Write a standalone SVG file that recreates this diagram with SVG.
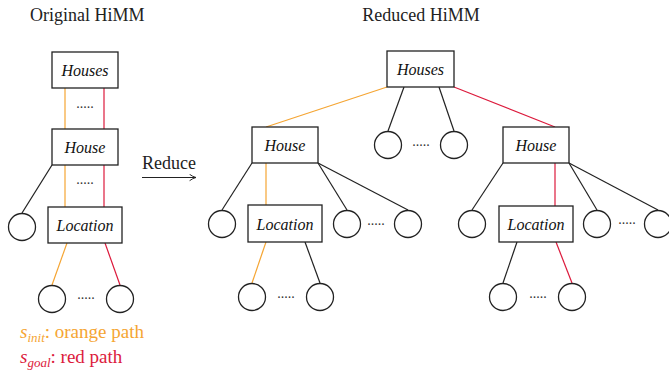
<svg xmlns="http://www.w3.org/2000/svg" width="669" height="373" viewBox="0 0 669 373">
<style>
text{font-family:'Liberation Serif','Times New Roman',serif}
.box{fill:#fff;stroke:#222;stroke-width:1.3}
.c{fill:#fff;stroke:#222;stroke-width:1.3}
.lbl{font-style:italic;font-size:16px;fill:#111;text-anchor:middle}
.t{font-size:18px;fill:#222}
.k{stroke:#222;stroke-width:1.2;fill:none}
.o{stroke:#F5A533;stroke-width:1.2;fill:none}
.r{stroke:#DC1A3C;stroke-width:1.2;fill:none}
.dots{font-size:14px;fill:#333;text-anchor:middle}
.lg{font-size:19px}
</style>
<defs>
<marker id="ah" viewBox="0 0 10 10" refX="9" refY="5" markerWidth="8" markerHeight="8" orient="auto" markerUnits="userSpaceOnUse">
<path d="M1,1 Q5,4 9,5 Q5,6 1,9" fill="none" stroke="#222" stroke-width="1.2"/>
</marker>
</defs>
<rect width="669" height="373" fill="#fff"/>
<text class="t" x="30" y="21">Original HiMM</text>
<text class="t" x="421" y="21" text-anchor="middle">Reduced HiMM</text>
<text class="t" x="142" y="169">Reduce</text>
<g id="connectors">
<line x1="142" y1="177.5" x2="196" y2="177.5" class="k" marker-end="url(#ah)"/>
<line class="o" x1="65" y1="88" x2="65" y2="129"/>
<line class="r" x1="104" y1="88" x2="104" y2="129"/>
<line class="o" x1="65" y1="165" x2="65" y2="207"/>
<line class="r" x1="104" y1="165" x2="104" y2="207"/>
<line class="k" x1="52" y1="165" x2="22" y2="213"/>
<line class="o" x1="67" y1="243" x2="52" y2="285"/>
<line class="r" x1="105" y1="243" x2="120" y2="285"/>
<line class="o" x1="387" y1="87" x2="266" y2="127"/>
<line class="r" x1="454" y1="87" x2="555" y2="127"/>
<line class="k" x1="404" y1="87" x2="388" y2="131"/>
<line class="k" x1="439" y1="87" x2="454" y2="131"/>
<line class="k" x1="252" y1="163" x2="222" y2="210"/>
<line class="o" x1="266" y1="163" x2="266" y2="205"/>
<line class="k" x1="318" y1="163" x2="347" y2="210"/>
<line class="k" x1="318" y1="163" x2="408" y2="210"/>
<line class="o" x1="266" y1="242" x2="252" y2="283"/>
<line class="k" x1="305" y1="242" x2="320" y2="283"/>
<line class="k" x1="503" y1="163" x2="472" y2="210"/>
<line class="r" x1="555" y1="163" x2="555" y2="206"/>
<line class="k" x1="569" y1="163" x2="597" y2="210"/>
<line class="k" x1="569" y1="163" x2="658" y2="210"/>
<line class="k" x1="517" y1="242" x2="503" y2="283"/>
<line class="r" x1="556" y1="242" x2="572" y2="283"/>
</g>
<g id="L-houses"><rect class="box" x="52" y="52" width="66" height="36"/><text class="lbl" x="85" y="76">Houses</text></g>
<g id="L-dots1"><text class="dots" x="85" y="108">.....</text></g>
<g id="L-house"><rect class="box" x="52" y="129" width="66" height="36"/><text class="lbl" x="85" y="153">House</text></g>
<g id="L-dots2"><text class="dots" x="85" y="184">.....</text></g>
<g id="L-location"><rect class="box" x="48" y="207" width="74" height="36"/><text class="lbl" x="85" y="231">Location</text></g>
<g id="L-c1"><circle class="c" cx="22" cy="227" r="13.5"/></g>
<g id="L-c2"><circle class="c" cx="52" cy="299" r="13.5"/></g>
<g id="L-dots3"><text class="dots" x="86" y="299">.....</text></g>
<g id="L-c3"><circle class="c" cx="120" cy="299" r="13.5"/></g>
<g id="R-houses"><rect class="box" x="387" y="51" width="67" height="36"/><text class="lbl" x="420.5" y="75">Houses</text></g>
<g id="R-c1"><circle class="c" cx="388" cy="145" r="13.5"/></g>
<g id="R-dots1"><text class="dots" x="421" y="146">.....</text></g>
<g id="R-c2"><circle class="c" cx="454" cy="145" r="13.5"/></g>
<g id="R-house1"><rect class="box" x="252" y="127" width="66" height="36"/><text class="lbl" x="285" y="151">House</text></g>
<g id="R-c3"><circle class="c" cx="222" cy="224" r="13.5"/></g>
<g id="R-location1"><rect class="box" x="248" y="205" width="74" height="37"/><text class="lbl" x="285" y="230">Location</text></g>
<g id="R-c4"><circle class="c" cx="347" cy="224" r="13.5"/></g>
<g id="R-dots2"><text class="dots" x="376" y="225">.....</text></g>
<g id="R-c5"><circle class="c" cx="408" cy="224" r="13.5"/></g>
<g id="R-c6"><circle class="c" cx="252" cy="297" r="13.5"/></g>
<g id="R-dots3"><text class="dots" x="286" y="298">.....</text></g>
<g id="R-c7"><circle class="c" cx="320" cy="297" r="13.5"/></g>
<g id="R-house2"><rect class="box" x="503" y="127" width="66" height="36"/><text class="lbl" x="536" y="151">House</text></g>
<g id="R-c8"><circle class="c" cx="472" cy="224" r="13.5"/></g>
<g id="R-location2"><rect class="box" x="499" y="206" width="74" height="36"/><text class="lbl" x="536" y="230">Location</text></g>
<g id="R-c9"><circle class="c" cx="597" cy="224" r="13.5"/></g>
<g id="R-dots4"><text class="dots" x="627" y="224">.....</text></g>
<g id="R-c10"><circle class="c" cx="658" cy="224" r="13.5"/></g>
<g id="R-c11"><circle class="c" cx="503" cy="297" r="13.5"/></g>
<g id="R-dots5"><text class="dots" x="538" y="298">.....</text></g>
<g id="R-c12"><circle class="c" cx="572" cy="297" r="13.5"/></g>
<g id="legend">
<text class="lg" x="20" y="338" fill="#F5A533"><tspan font-style="italic">s</tspan><tspan font-style="italic" font-size="13" dy="4">init</tspan><tspan dy="-4">: orange path</tspan></text>
<text class="lg" x="20" y="363" fill="#DC1A3C"><tspan font-style="italic">s</tspan><tspan font-style="italic" font-size="13" dy="4">goal</tspan><tspan dy="-4">: red path</tspan></text>
</g>
</svg>
